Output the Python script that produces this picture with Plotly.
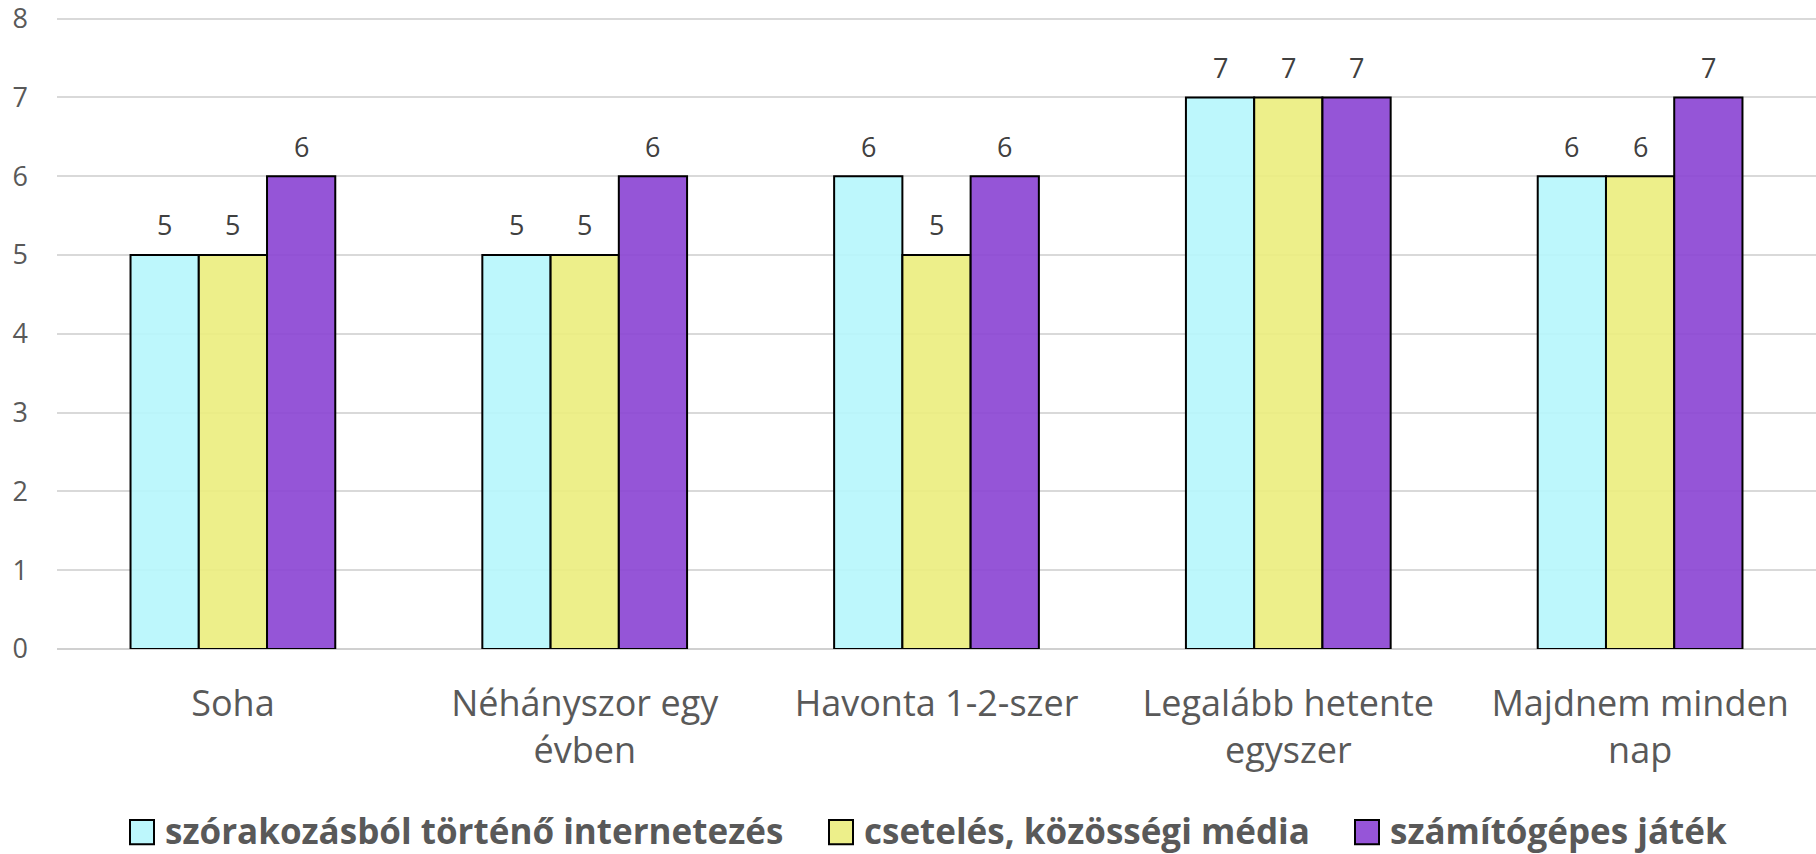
import plotly.graph_objects as go

categories = ["Soha", "Néhányszor egy<br>évben", "Havonta 1-2-szer",
              "Legalább hetente<br>egyszer", "Majdnem minden<br>nap"]
series_names = ["szórakozásból történő internetezés",
                "csetelés, közösségi média",
                "számítógépes játék"]
internet = [5, 5, 6, 7, 6]
chat = [5, 5, 5, 7, 6]
games = [6, 6, 6, 7, 7]
series_values = [internet, chat, games]
y_ticks = [0, 1, 2, 3, 4, 5, 6, 7, 8]

fills = ["rgba(182,246,252,0.9)", "rgba(235,237,125,0.9)", "rgba(138,66,211,0.9)"]
legend_fills = ["#BDF7FC", "#EDEF8A", "#9655D8"]

W, H = 1816, 854
Y_TOP = 8.02
ML, MR, MB = 57, 0, 205
UNIT = 630 / 8
PH = UNIT * Y_TOP
MT = H - MB - PH
PW = W - ML - MR
FONT = "Open Sans"
GRAY = "#595959"

fig = go.Figure()
for name, vals, col in zip(series_names, series_values, fills):
    fig.add_trace(go.Bar(
        x=categories, y=vals, name=name,
        marker=dict(color=col, line=dict(color="black", width=2)),
        showlegend=False,
    ))

# data labels above bars
bar_px = 0.582 * PW / 5 / 3
for i, vals in enumerate(series_values):
    for c, v in zip(categories, vals):
        fig.add_annotation(x=c, y=v, text=str(v), showarrow=False,
                           xshift=(i - 1) * bar_px, yshift=30,
                           yanchor="middle",
                           font=dict(family=FONT, size=27, color="#404040"))

# manual legend
def px_to_paper(px, py):
    return (px - ML) / PW, (H - MB - py) / PH

legend_x = [130, 829, 1355]
legend_cy = 832
sq = 24
for lx, name, col in zip(legend_x, series_names, legend_fills):
    x0, y0 = px_to_paper(lx, legend_cy + sq / 2)
    x1, y1 = px_to_paper(lx + sq, legend_cy - sq / 2)
    fig.add_shape(type="rect", xref="paper", yref="paper",
                  x0=x0, y0=y0, x1=x1, y1=y1,
                  fillcolor=col, line=dict(color="black", width=2))
    tx, ty = px_to_paper(lx + sq + 9, legend_cy - 2)
    fig.add_annotation(xref="paper", yref="paper", x=tx, y=ty,
                       text="<b>" + name + "</b>", showarrow=False,
                       xanchor="left", yanchor="middle",
                       font=dict(family=FONT, size=35, color=GRAY))

fig.update_layout(
    width=W, height=H,
    margin=dict(l=ML, r=MR, t=MT, b=MB, pad=0),
    paper_bgcolor="white", plot_bgcolor="white",
    barmode="group", bargap=0.418, bargroupgap=0,
    font=dict(family=FONT, color=GRAY),
)
fig.update_xaxes(
    tickfont=dict(family=FONT, size=36, color=GRAY),
    showgrid=False, showline=False, ticks="",
    ticklabelstandoff=30,
)
fig.update_yaxes(
    range=[0, Y_TOP], tickvals=y_ticks,
    tickfont=dict(family=FONT, size=27, color=GRAY),
    showgrid=True, gridcolor="#D9D9D9", gridwidth=1.5,
    zeroline=True, zerolinecolor="#D0D0D0", zerolinewidth=2,
    showline=False, ticks="", ticklabelstandoff=28,
    ticklabeloverflow="allow",
)

fig.write_html("out.html", config={"displayModeBar": False},
               post_script="document.body.style.margin='0';document.body.style.overflow='hidden';")
